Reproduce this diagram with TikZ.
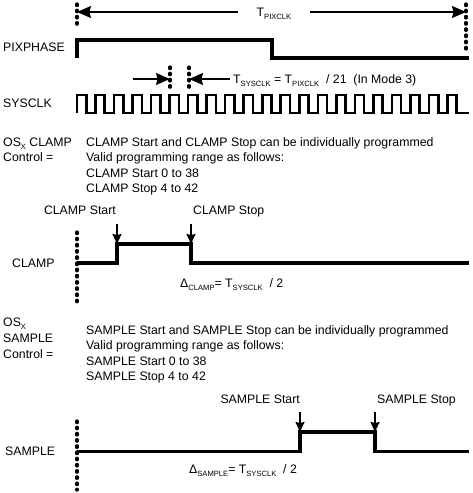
\documentclass[tikz,border=0pt]{standalone}
\usepackage{fontspec}
\setmainfont{Liberation Sans}
\usetikzlibrary{arrows.meta}
\newcommand{\lowsub}[1]{\raisebox{-2.6pt}{\fontsize{7.6}{8}\selectfont #1}}
\tikzset{
  sig/.style={line width=3.1pt, line join=miter},
  clk/.style={line width=2.6pt, line join=miter},
  marker/.style={line width=3.2pt, line cap=round, dash pattern=on 1.6pt off 4.6pt},
  dimline/.style={line width=1.1pt, ->},
  pinarrow/.style={line width=1.6pt, -{Stealth[length=10pt,width=9pt,inset=1pt]}},
  lbl/.style={anchor=base west, inner sep=0pt},
}
\begin{document}
\begin{tikzpicture}[x=1pt, y=-1pt, font=\fontsize{12.3}{15}\selectfont, line join=round, >={Stealth[length=14pt,width=12pt,inset=1.5pt]}]
  \def\xa{77} \def\xb{466} % span of T_PIXCLK
  \def\per{18.524} % one SYSCLK period
  \useasboundingbox[fill=white] (0,0) rectangle (473,493);
  % T_PIXCLK
  \draw[marker] (\xa,4) -- (\xa,28);
  \draw[marker] (\xb,4) -- (\xb,52);
  \coordinate (pixL) at (\xa,12);
  \coordinate (pixR) at (\xb,12);
  \node[anchor=base, inner xsep=19pt, inner ysep=0pt] (pixtxt) at (274,16.4) {T\lowsub{PIXCLK}};
  \draw[dimline] (pixtxt.west |- pixL) -- (pixL);
  \draw[dimline] (pixtxt.east |- pixR) -- (pixR);
  % PIXPHASE
  \node[lbl] (pixphase) at (3,51.5) {PIXPHASE};
  \draw[sig] (\xa,58) -- (\xa,40) -- (272,40) -- (272,58) -- (469,58);
  % T_SYSCLK
  \draw[marker] (170,67) -- (170,91);
  \draw[marker] (189,67) -- (189,91);
  \coordinate (tsL) at (170,79);
  \coordinate (tsR) at (189,79);
  \coordinate (tsTail) at (133,79);
  \node[lbl] (tstxt) at (233,83.4) {T\lowsub{SYSCLK} = T\lowsub{PIXCLK}~ / 21~ (In Mode 3)};
  \draw[dimline] (tsTail) -- (tsL);
  \draw[dimline] ([xshift=-3pt]tstxt.west |- tsR) -- (tsR);
  % SYSCLK
  \node[lbl] (sysclk) at (3,107) {SYSCLK};
  \draw[clk] (\xa,113) \foreach \k in {0,...,20} { -- ++(0,-18) -- ++(\per/2,0) -- ++(0,18) -- ++(\per/2,0) } -- (469,113);
  % OSx CLAMP control
  \node[lbl] (osclamp) at (3,146.4) {OS\lowsub{X} CLAMP};
  \node[lbl] (ctlclamp) at (3,161.9) {Control =};
  \foreach \t [count=\i] in {CLAMP Start and CLAMP Stop can be individually programmed, Valid programming range as follows:, CLAMP Start 0 to 38, CLAMP Stop 4 to 42}
    \node[lbl] (clampnote\i) at (86,{146.4+15.5*(\i-1)}) {\t};
  % CLAMP
  \draw[marker] (\xa,232) -- (\xa,305);
  \node[lbl] (clamp) at (12,267.4) {CLAMP};
  \coordinate (cRise) at (117,244);
  \coordinate (cFall) at (191,244);
  \coordinate (cRiseTop) at (117,224);
  \coordinate (cFallTop) at (191,224);
  \draw[sig] (\xa,263) -- (117,263) -- (cRise) -- (cFall) -- (191,263) -- (469,263);
  \node[anchor=base east, inner sep=0pt] (cstart) at (116,214.4) {CLAMP Start};
  \node[lbl] (cstop) at (193,214.4) {CLAMP Stop};
  \draw[pinarrow] (cRiseTop) -- (cRise);
  \draw[pinarrow] (cFallTop) -- (cFall);
  \node[lbl] (dclamp) at (180,287.4) {Δ\lowsub{CLAMP}= T\lowsub{SYSCLK}~ / 2};
  % OSx SAMPLE control
  \node[lbl] (ossample) at (3,326.4) {OS\lowsub{X}};
  \node[lbl] (samplectl) at (3,342.4) {SAMPLE};
  \node[lbl] (ctlsample) at (3,358.4) {Control =};
  \foreach \t [count=\i] in {SAMPLE Start and SAMPLE Stop can be individually programmed, Valid programming range as follows:, SAMPLE Start 0 to 38, SAMPLE Stop 4 to 42}
    \node[lbl] (samplenote\i) at (86,{334.4+15.5*(\i-1)}) {\t};
  % SAMPLE
  \draw[marker] (\xa,421) -- (\xa,490);
  \node[lbl] (sample) at (5,455.4) {SAMPLE};
  \coordinate (sRise) at (300,432);
  \coordinate (sFall) at (375,432);
  \coordinate (sRiseTop) at (300,412);
  \coordinate (sFallTop) at (375,412);
  \draw[sig] (\xa,451.5) -- (300,451.5) -- (sRise) -- (sFall) -- (375,451.5) -- (469,451.5);
  \node[anchor=base east, inner sep=0pt] (sstart) at (300,403.4) {SAMPLE Start};
  \node[lbl] (sstop) at (377,403.4) {SAMPLE Stop};
  \draw[pinarrow] (sRiseTop) -- (sRise);
  \draw[pinarrow] (sFallTop) -- (sFall);
  \node[lbl] (dsample) at (189,473.4) {Δ\lowsub{SAMPLE}= T\lowsub{SYSCLK}~ / 2};
\end{tikzpicture}
\end{document}
